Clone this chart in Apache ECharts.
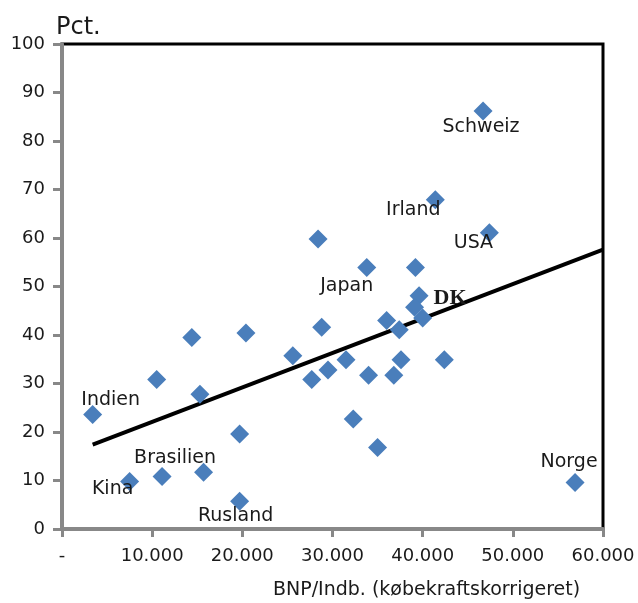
<!DOCTYPE html>
<html>
<head>
<meta charset="utf-8">
<script src="https://cdn.jsdelivr.net/npm/echarts@6/dist/echarts.min.js"></script>
<style>
html,body{margin:0;padding:0;background:#fff;}
#chart{width:638px;height:603px;}
</style>
</head>
<body>
<div id="chart"></div>
<script>
// GDP per capita (PPP) and share (pct.) per country
const countries = ['Indien','Kina','Brasilien','c4','c5','c6','c7','Rusland','c9','c10',
  'c11','c12','c13','c14','c15','c16','c17','Japan','c19','c20',
  'c21','c22','c23','c24','c25','DK','c27','c28','c29','Irland',
  'Schweiz','USA','Norge'];
const gdp = [3400, 7500, 11100, 15700, 10500, 14400, 15300, 19700, 19700, 20400,
  25600, 28400, 27700, 28800, 29500, 31500, 32300, 33800, 34000, 35000,
  36000, 36800, 37400, 37600, 39200, 39600, 39100, 40000, 42400, 41400,
  46700, 47400, 56900];
const share = [23.6, 9.8, 10.8, 11.7, 30.8, 39.5, 27.8, 5.7, 19.6, 40.4,
  35.7, 59.8, 30.8, 41.6, 32.8, 34.9, 22.7, 53.9, 31.7, 16.8,
  43.0, 31.7, 41.1, 34.9, 53.9, 48.1, 45.7, 43.5, 34.9, 67.9,
  86.2, 61.1, 9.6];
// linear trend line end points
const trendX = [3400, 60000];
const trendY = [17.4, 57.6];
const yTicks = [0,10,20,30,40,50,60,70,80,90,100];

// label placement (style only): offset of text centre from marker centre
const labelOffsets = {
  'Indien':[18,-14], 'Kina':[-17,8], 'Brasilien':[13,-19], 'Rusland':[-4,15],
  'Japan':[-20,18], 'DK':[31,3], 'Irland':[-22,10], 'Schweiz':[-2,16],
  'USA':[-16,10], 'Norge':[-6,-20]
};

const FONT = 'DejaVu Sans';
const SYM = 19;
const scatterData = [];
for (let i = 0; i < countries.length; i++) {
  const name = countries[i];
  const item = { name: name, value: [gdp[i], share[i]] };
  if (labelOffsets[name]) {
    const o = labelOffsets[name];
    item.label = {
      show: true,
      position: [SYM / 2 + o[0], SYM / 2 + o[1]],
      align: 'center', verticalAlign: 'middle',
      formatter: name, color: '#1a1a1a', opacity: 1,
      fontFamily: name === 'DK' ? 'Liberation Serif' : FONT,
      fontSize: name === 'DK' ? 22 : 19,
      fontWeight: name === 'DK' ? 'bold' : 'normal'
    };
  }
  scatterData.push(item);
}

const chart = echarts.init(document.getElementById('chart'), null, {renderer:'canvas'});
chart.setOption({
  animation: false,
  backgroundColor: '#fff',
  textStyle: { fontFamily: FONT },
  title: {
    text: 'BNP/Indb. (købekraftskorrigeret)',
    left: 268, top: 576,
    textStyle: { fontFamily: FONT, fontSize: 19, fontWeight: 'normal', color: '#1a1a1a' }
  },
  grid: {
    left: 62, right: 35, top: 44, bottom: 74,
    show: true, borderColor: '#000', borderWidth: 3, backgroundColor: 'transparent'
  },
  xAxis: {
    type: 'value', min: 0, max: 60000, interval: 10000,
    axisLine: { show: true, onZero: false, lineStyle: { color: '#888', width: 4 } },
    axisTick: { show: true, length: 8, lineStyle: { color: '#888', width: 3 } },
    splitLine: { show: false },
    axisLabel: {
      margin: 18, color: '#1a1a1a', fontSize: 18, fontFamily: FONT,
      formatter: function (v) { return v === 0 ? '-' : (v / 1000) + '.000'; }
    }
  },
  yAxis: {
    type: 'value', min: 0, max: 100, interval: 10,
    name: 'Pct.', nameLocation: 'end', nameGap: 4,
    nameTextStyle: { fontFamily: FONT, fontSize: 24, color: '#1a1a1a', align: 'left', padding: [0,0,0,-6] },
    axisLine: { show: true, onZero: false, lineStyle: { color: '#888', width: 4 } },
    axisTick: { show: true, length: 9, lineStyle: { color: '#888', width: 3 } },
    splitLine: { show: false },
    axisLabel: {
      margin: 17, color: '#1a1a1a', fontSize: 18, fontFamily: FONT,
      padding: [4, 0, 0, 0],
      formatter: function (v) { return yTicks.indexOf(v) >= 0 ? String(v) : ''; }
    }
  },
  series: [
    {
      type: 'line',
      data: trendX.map((x, i) => [x, trendY[i]]),
      symbol: 'none',
      lineStyle: { color: '#000', width: 3.8 },
      z: 3,
      silent: true
    },
    {
      type: 'scatter',
      data: scatterData,
      symbol: 'diamond',
      symbolSize: SYM,
      itemStyle: { color: '#4a7ebb', opacity: 1 },
      label: { show: false },
      z: 4
    }
  ]
});
</script>
</body>
</html>
